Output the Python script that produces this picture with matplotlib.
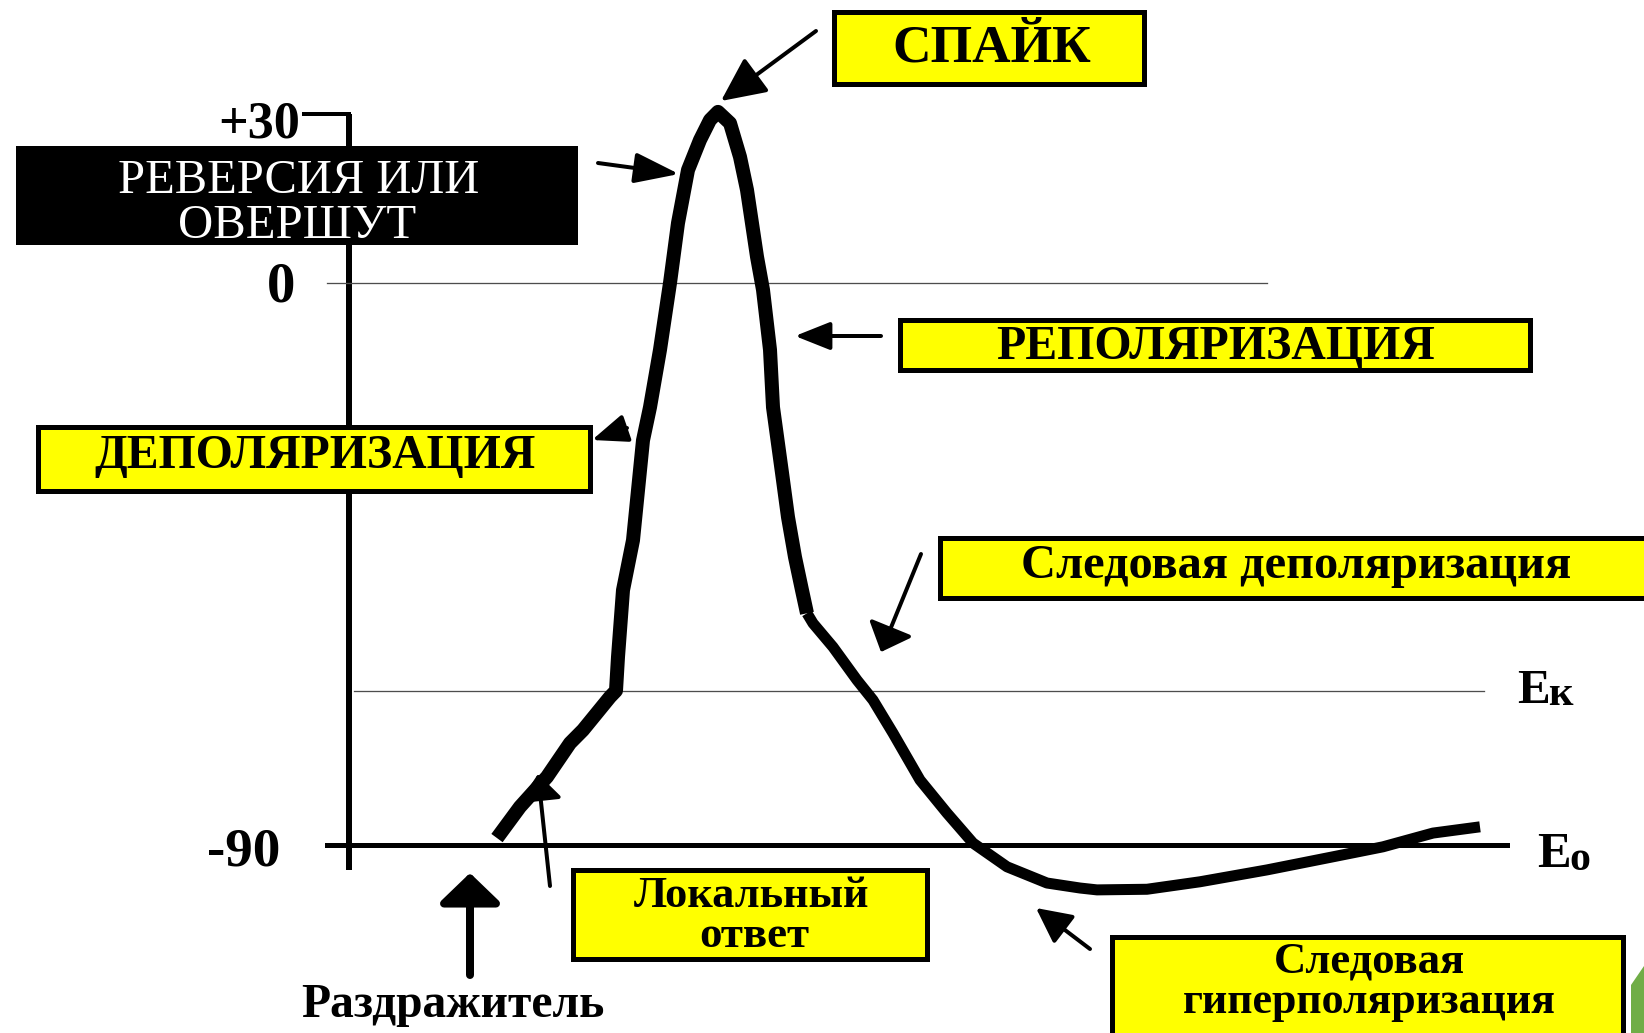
import matplotlib
matplotlib.use("Agg")
import matplotlib.pyplot as plt
from matplotlib.patches import Rectangle, Polygon

W, H = 1644, 1033

# Мембранный потенциал (мВ) против времени (усл. ед.)
t_spike = [14.8, 17.1, 19.8, 22.1, 23.4, 26.1, 26.7, 26.9, 27.4, 28.4, 29.4,
           30.1, 31.1, 32.1, 32.9, 33.9, 35.1, 36.1, 36.9, 38.1, 39.1, 39.8,
           40.8, 41.4, 42.1, 42.4, 43.3, 43.9, 44.6, 45.3, 45.8]
v_spike = [-88.9, -83.9, -79.1, -73.7, -71.6, -66.3, -65.3, -59.9, -49.2,
           -41.2, -25.2, -19.9, -10.7, 0.0, 9.6, 18.1, 22.9, 26.1, 27.4, 25.6,
           20.2, 14.9, 4.2, -1.1, -10.7, -19.9, -30.4, -37.5, -43.9, -49.2,
           -52.9]
t_trace = [45.8, 46.4, 48.4, 50.8, 52.4, 54.4, 57.1, 59.8, 62.4, 65.8, 69.8,
           73.1, 74.8, 79.8, 85.1, 91.8, 98.4, 103.4, 108.4, 113.1]
v_trace = [-52.9, -54.5, -58.3, -63.6, -66.8, -72.1, -79.6, -84.9, -89.7,
           -93.5, -96.1, -96.9, -97.2, -97.1, -95.9, -94.0, -91.9, -90.3,
           -88.1, -87.1]

# уровни: ноль, критический (Ek), покоя (E0)
v_zero, v_ek, v_e0 = 0, -65.3, -90
t_zero = [-2.2, 91.8]
t_ek = [0.5, 113.5]
t_e0 = [-2.2, 115.8]
v_axis = [-94, 27]
# на схеме отметка "+30" стоит ниже своего линейного положения
tick_v = [27, 0, -90]
tick_labels = ["+30", "0", "-90"]

fig = plt.figure(figsize=(W / 100, H / 100), dpi=100)
ax = fig.add_axes([0, 0, 1, 1])
ax.set_xlim(-34.9, 129.5)
ax.set_ylim(-120.12, 45.32)
ax.axis("off")

PX = 0.72  # pt на пиксель


def F(x, y):
    # пиксели эталона -> доли фигуры
    return (x / W, 1 - y / H)


# оси и уровни
ax.plot([0, 0], v_axis, color="black", lw=6 * PX, solid_capstyle="butt")
ax.plot([-4.5, 0], [tick_v[0]] * 2, color="black", lw=4 * PX)
ax.plot(t_zero, [v_zero] * 2, color="#4d4d4d", lw=1.3 * PX)
ax.plot(t_ek, [v_ek] * 2, color="#4d4d4d", lw=1.3 * PX)
ax.plot(t_e0, [v_e0] * 2, color="black", lw=5 * PX)

# кривая потенциала действия
ax.plot(t_spike, v_spike, color="black", lw=14 * PX,
        solid_joinstyle="round", solid_capstyle="butt")
ax.plot(t_trace, v_trace, color="black", lw=11 * PX,
        solid_joinstyle="round", solid_capstyle="butt")

# стрелки: хвост, острие, толщина, длина и полуширина головки (px)
arrows = [
    ((816, 31), (721, 101), 4, 38, 18),
    ((598, 163), (679, 174), 4, 38, 13),
    ((881, 336), (795, 336), 4, 30, 12),
    ((627, 428), (592, 440), 4, 30, 12),
    ((921, 554), (881, 652), 4, 22, 20),
    ((550, 886), (538, 774), 4, 22, 18),
    ((470, 975), (470, 873), 8, 25, 26),
    ((1090, 949), (1036, 908), 4, 30, 15),
]
for tail, tip, lw, hl, hw in arrows:
    ax.annotate("", xy=F(*tip), xycoords="figure fraction",
                xytext=F(*tail), textcoords="figure fraction",
                arrowprops=dict(arrowstyle="-|>,head_length=%.1f,head_width=%.1f"
                                % (hl * PX, hw * PX),
                                color="black", lw=lw * PX, mutation_scale=1,
                                shrinkA=0, shrinkB=0))

# подписи в рамках: x0, y0, x1, y1 (px), заливка
boxes = [
    (831, 10, 1146, 86, "#ffff00"),
    (13, 144, 580, 248, "black"),
    (897, 317, 1532, 372, "#ffff00"),
    (35, 425, 592, 494, "#ffff00"),
    (937, 535, 1670, 600, "#ffff00"),
    (570, 867, 929, 961, "#ffff00"),
    (1109, 934, 1625, 1045, "#ffff00"),
]
for x0, y0, x1, y1, fc in boxes:
    lw = 5 * PX if fc != "black" else 0
    ax.add_patch(Rectangle(F(x0 + 2.5, y1 - 2.5), (x1 - x0 - 5) / W,
                           (y1 - y0 - 5) / H, transform=fig.transFigure,
                           facecolor=fc, edgecolor="black", lw=lw, zorder=3))

# зелёный уголок слайда
ax.add_patch(Polygon([F(1631, 985), F(1644, 966), F(1644, 1033), F(1631, 1033)],
                     closed=True, transform=fig.transFigure,
                     facecolor="#70ad47", edgecolor="none", zorder=4))

# тексты: строка, x, базовая линия y, ширина (px), жирный, цвет, доля ширины, выравнивание
texts = [
    ("СПАЙК", 992, 62, 226, True, "black", 0.88, "center"),
    ("РЕВЕРСИЯ ИЛИ", 299, 193, 451, False, "white", 0.8, "center"),
    ("ОВЕРШУТ", 297, 238, 297, False, "white", 0.8, "center"),
    ("РЕПОЛЯРИЗАЦИЯ", 1216, 359, 498, True, "black", 0.88, "center"),
    ("ДЕПОЛЯРИЗАЦИЯ", 315, 468, 501, True, "black", 0.88, "center"),
    ("Следовая деполяризация", 1296, 578, 610, True, "black", 0.9, "center"),
    ("Локальный", 752, 907, 288, True, "black", 0.82, "center"),
    ("ответ", 754, 947, 134, True, "black", 0.82, "center"),
    ("Следовая", 1369, 972, 233, True, "black", 0.82, "center"),
    ("гиперполяризация", 1369, 1013, 456, True, "black", 0.82, "center"),
    ("Раздражитель", 453, 1017, 344, True, "black", 0.88, "center"),
    (tick_labels[0], 259, 137, 93, True, "black", 0.88, "center"),
    (tick_labels[1], 281, 302, 32, True, "black", 0.88, "center"),
    (tick_labels[2], 244, 866, 83, True, "black", 0.88, "center"),
    ("E", 1550, 703, 36, True, "black", 0.9, "right"),
    ("к", 1548, 705, 29, True, "black", 0.85, "left"),
    ("E", 1571, 867, 37, True, "black", 0.9, "right"),
    ("o", 1569, 870, 23, True, "black", 0.9, "left"),
]
renderer = fig.canvas.get_renderer()
for s, x, y, w, bold, col, k, ha in texts:
    t = fig.text(*F(x, y), s, ha=ha, va="baseline", color=col,
                 family="Liberation Serif",
                 fontweight="bold" if bold else "normal", fontsize=20,
                 zorder=5)
    ww = t.get_window_extent(renderer).width
    t.set_fontsize(20 * w / ww * k)

fig.savefig("out.png", dpi=100)
